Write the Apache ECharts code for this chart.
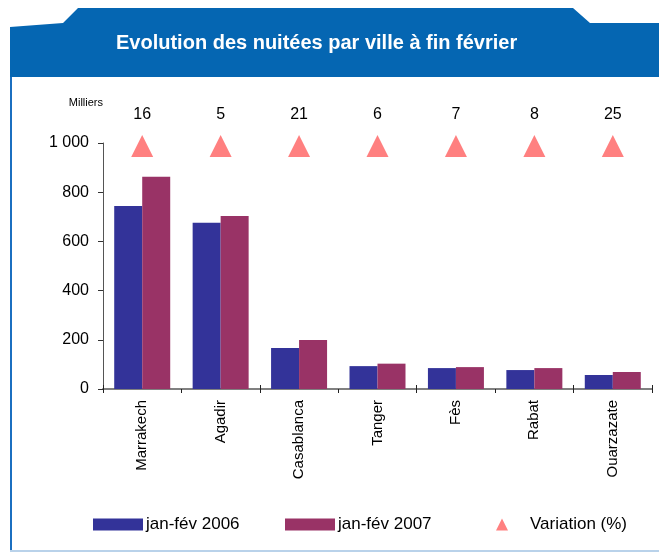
<!DOCTYPE html>
<html>
<head>
<meta charset="UTF-8">
<title>Evolution des nuitées par ville à fin février</title>
<script src="https://cdn.jsdelivr.net/npm/echarts@6/dist/echarts.min.js"></script>
<style type="text/css">
body{
	padding:0;
	margin:0;
	background:#fff;
}
#chart{
	width:659px;
	height:554px;
}
</style>
</head>
<body>
<div id="chart"></div>
<script type="text/javascript">
// villes
var cities = ['Marrakech', 'Agadir', 'Casablanca', 'Tanger', 'Fès', 'Rabat', 'Ouarzazate'];
// nuitées en milliers
var nuitees2006 = [744, 676, 167, 93, 85, 77, 57];
var nuitees2007 = [863, 703, 199, 103, 89, 85, 69];
// variation (%)
var variation = [16, 5, 21, 6, 7, 8, 25];
var yTicks = [0, 200, 400, 600, 800, 1000];

var seriesNames = ['jan-fév 2006', 'jan-fév 2007', 'Variation (%)'];
var markerLevel = 988; // hauteur fixe des triangles

var font = 'Liberation Sans, Arial, sans-serif';
var myChart = echarts.init(document.getElementById('chart'));

var legendText = {fontSize: 17, color: '#000', fontFamily: font};

var option = {
	animation: false,
	backgroundColor: '#fff',
	title: {
		text: 'Evolution des nuitées par ville à fin février',
		left: 116,
		top: 33,
		padding: 0,
		textStyle: {color: '#fff', fontSize: 20, fontWeight: 'bold', fontFamily: font}
	},
	graphic: [
		{
			type: 'polygon', z: -1,
			shape: {points: [[10, 27], [63, 23], [78, 8], [573, 8], [590, 23], [659, 23], [659, 77], [10, 77]]},
			style: {fill: '#0566b2'}
		},
		{type: 'rect', z: -1, shape: {x: 10, y: 77, width: 2, height: 475}, style: {fill: '#1b6fc0'}},
		{type: 'rect', z: -1, shape: {x: 10, y: 550, width: 649, height: 2}, style: {fill: '#b9d2ea'}}
	],
	legend: [
		{
			data: [seriesNames[0]], left: 93, top: 516, padding: 0, itemWidth: 50, itemHeight: 12,
			icon: 'rect', textStyle: Object.assign({padding: [0, 0, 0, -2]}, legendText)
		},
		{
			data: [seriesNames[1]], left: 285, top: 516, padding: 0, itemWidth: 50, itemHeight: 12,
			icon: 'rect', textStyle: Object.assign({padding: [0, 0, 0, -2]}, legendText)
		},
		{
			data: [seriesNames[2]], left: 496, top: 516, padding: 0, itemWidth: 12, itemHeight: 12,
			icon: 'triangle', textStyle: Object.assign({padding: [0, 0, 0, 17]}, legendText)
		}
	],
	grid: {left: 103, right: 7, top: 143, bottom: 165, containLabel: false},
	xAxis: [
		{
			type: 'category',
			data: cities,
			axisLine: {lineStyle: {color: '#808080', width: 2}},
			axisTick: {show: true, length: 4, lineStyle: {color: '#222'}},
			axisLabel: {rotate: 90, margin: 11, fontSize: 15, color: '#000', fontFamily: font}
		},
		{
			type: 'category',
			data: cities,
			position: 'bottom',
			axisLine: {show: false},
			axisTick: {show: true, inside: true, length: 4, lineStyle: {color: '#222'}},
			axisLabel: {show: false}
		}
	],
	yAxis: {
		type: 'value',
		min: yTicks[0],
		max: yTicks[yTicks.length - 1],
		interval: 200,
		name: 'Milliers',
		nameLocation: 'end',
		nameGap: 35,
		nameTextStyle: {align: 'right', fontSize: 11, color: '#000', fontFamily: font},
		splitLine: {show: false},
		axisLine: {show: true, lineStyle: {color: '#555'}},
		axisTick: {show: true, length: 5, lineStyle: {color: '#333'}},
		axisLabel: {
			margin: 14, fontSize: 16, color: '#000', fontFamily: font,
			formatter: function (v) { return v >= 1000 ? Math.floor(v / 1000) + ' ' + String(v % 1000).padStart(3, '0') : String(v); }
		}
	},
	series: [
		{
			name: seriesNames[0], type: 'bar', data: nuitees2006,
			barWidth: 28, barGap: 0,
			itemStyle: {color: '#333399'}
		},
		{
			name: seriesNames[1], type: 'bar', data: nuitees2007,
			barWidth: 28, barGap: 0,
			itemStyle: {color: '#993366'}
		},
		{
			name: seriesNames[2], type: 'scatter',
			data: variation.map(function (v) { return {value: markerLevel, variation: v}; }),
			symbol: 'triangle', symbolSize: [22, 22],
			itemStyle: {color: '#ff8080', opacity: 1},
			label: {
				show: true, position: 'top', distance: 12,
				fontSize: 16, color: '#000', fontFamily: font,
				formatter: function (p) { return String(variation[p.dataIndex]); }
			}
		}
	]
};

myChart.setOption(option);
</script>
</body>
</html>
